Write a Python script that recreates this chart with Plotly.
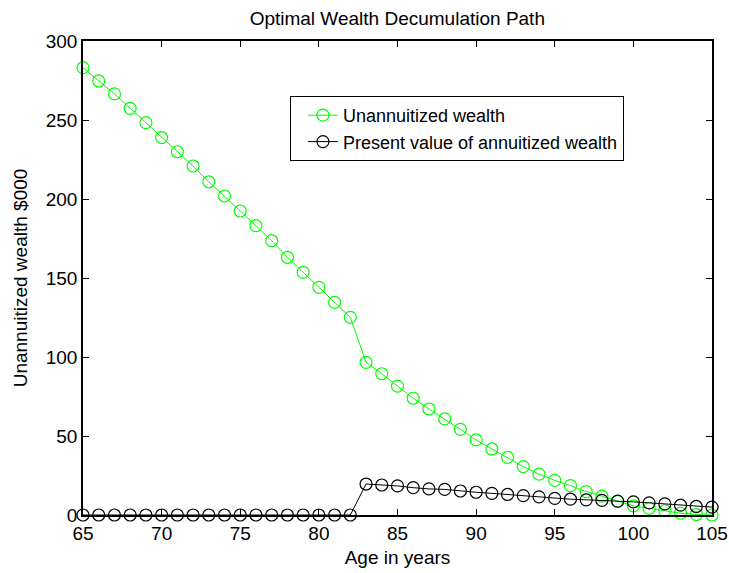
import plotly.graph_objects as go

ages = list(range(65, 106))
unannuitized = [283.1, 274.7, 266.5, 257.4, 248.3, 238.8, 229.9, 220.9, 210.9, 201.9,
                192.4, 183.1, 173.6, 163.1, 153.6, 144.1, 134.6, 125.1, 96.6, 89.4,
                81.6, 73.9, 67.1, 60.8, 54.2, 47.5, 41.8, 36.5, 30.6, 25.9,
                21.9, 18.6, 14.8, 11.9, 8.6, 5.8, 4.2, 2.7, 1.1, 0.3, 0.0]
annuitized = [0]*18 + [19.6, 19.0, 18.4, 17.3, 16.5, 16.2, 15.2, 14.4, 13.7, 13.0,
                       12.3, 11.5, 10.5, 10.0, 9.6, 9.3, 8.8, 8.3, 7.7, 7.0,
                       6.2, 5.4, 5.0]

x_ticks = [65, 70, 75, 80, 85, 90, 95, 100, 105]
y_ticks = [0, 50, 100, 150, 200, 250, 300]

FONT = "Liberation Sans, Arial"

fig = go.Figure()
fig.add_trace(go.Scatter(
    x=ages, y=unannuitized, mode="lines+markers", name="Unannuitized wealth",
    line=dict(color="#00ff00", width=1),
    marker=dict(symbol="circle-open", size=12, color="#00ff00", line=dict(width=1.2)),
    cliponaxis=False))
fig.add_trace(go.Scatter(
    x=ages, y=annuitized, mode="lines+markers", name="Present value of annuitized wealth",
    line=dict(color="#000000", width=1),
    marker=dict(symbol="circle-open", size=12, color="#000000", line=dict(width=1.2)),
    cliponaxis=False))

axis_common = dict(showline=True, linecolor="black", linewidth=1.5, mirror="ticks",
                   ticks="inside", ticklen=6, tickcolor="black", showgrid=False,
                   zeroline=False, automargin=False,
                   tickfont=dict(family=FONT, size=19, color="black"))

fig.update_layout(
    width=729, height=573,
    paper_bgcolor="white", plot_bgcolor="white",
    margin=dict(l=83, r=17, t=41, b=58),
    title=dict(text="Optimal Wealth Decumulation Path", x=0.545, xanchor="center",
               y=0.968, yanchor="middle",
               font=dict(family=FONT, size=19, color="black")),
    xaxis=dict(range=[65, 105], tickvals=x_ticks, ticktext=[str(v) for v in x_ticks],
               title=dict(text="Age in years", standoff=8,
                          font=dict(family=FONT, size=19, color="black")),
               **axis_common),
    yaxis=dict(range=[0, 300], tickvals=y_ticks, ticktext=[str(v) for v in y_ticks],
               title=dict(text="Unannuitized wealth $000", standoff=13,
                          font=dict(family=FONT, size=19, color="black")),
               **axis_common),
    legend=dict(x=0.329, y=0.884, xanchor="left", yanchor="top",
                bgcolor="white", bordercolor="black", borderwidth=1,
                font=dict(family=FONT, size=18, color="black"),
                tracegroupgap=0, itemwidth=30, indentation=12),
    showlegend=True,
)

fig.write_html("out.html", config={"displayModeBar": False},
               post_script="document.body.style.margin='0';document.body.style.padding='0';"
                           "document.body.style.overflow='hidden';")
